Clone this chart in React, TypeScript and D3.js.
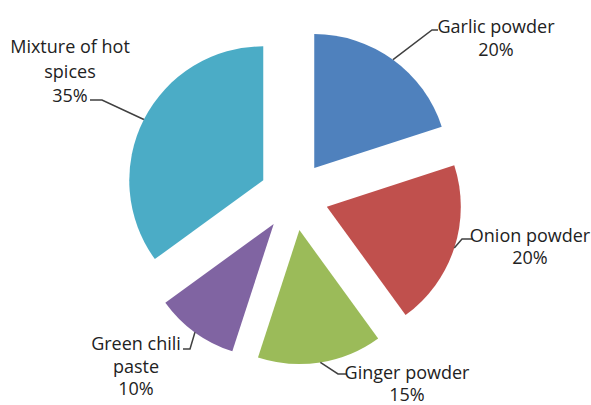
import React from "react";
import * as d3 from "d3";

const categories = ["Garlic powder", "Onion powder", "Ginger powder", "Green chili paste", "Mixture of hot spices"];
const values = [20, 20, 15, 10, 35];
const colors = ["#4F81BD", "#C0504D", "#9BBB59", "#8064A2", "#4BACC6"];
// label lines (text broken as in the reference)
const labelLines = [
  ["Garlic powder", "20%"],
  ["Onion powder", "20%"],
  ["Ginger powder", "15%"],
  ["Green chili", "paste", "10%"],
  ["Mixture of hot", "spices", "35%"],
];

// layout (not data)
const W = 591, H = 405;
const cx = 294, cy = 196, R = 134, EXPLODE = 34.5;
const labelPos = [
  { x: 496, y: 33, lh: 22.5, elbow: [432, 30], end: [438, 30] },
  { x: 530, y: 242, lh: 22, elbow: [462, 239], end: [473, 239] },
  { x: 407, y: 379, lh: 22, elbow: [338, 374], end: [347, 374] },
  { x: 136, y: 350, lh: 22.5, elbow: [190, 349], end: [183, 349] },
  { x: 70, y: 53, lh: 24.5, elbow: [102, 100], end: [90, 100] },
];

export default function App() {
  const pie = d3.pie<number>().sort(null).value((d) => d)(values);
  const arc = d3.arc<d3.PieArcDatum<number>>().innerRadius(0).outerRadius(R);
  return (
    <svg width={W} height={H} style={{ position: "absolute", left: 0, top: 0, background: "#fff" }}>
      <rect width={W} height={H} fill="#fff" />
      {pie.map((p, i) => {
        const mid = (p.startAngle + p.endAngle) / 2;
        const ox = cx + Math.sin(mid) * EXPLODE;
        const oy = cy - Math.cos(mid) * EXPLODE;
        const sx = ox + Math.sin(mid) * R;
        const sy = oy - Math.cos(mid) * R;
        const lp = labelPos[i];
        const lines = labelLines[i];
        return (
          <g key={categories[i]}>
            <path d={arc(p) || ""} transform={`translate(${ox},${oy})`} fill={colors[i]} />
            <polyline
              points={`${sx},${sy} ${lp.elbow[0]},${lp.elbow[1]} ${lp.end[0]},${lp.end[1]}`}
              fill="none"
              stroke="#404040"
              strokeWidth={1.5}
            />
            <text
              textAnchor="middle"
              fontFamily="'Open Sans', 'Liberation Sans', sans-serif"
              fontSize={18}
              fill="#222"
            >
              {lines.map((t, j) => (
                <tspan key={j} x={lp.x} y={lp.y + j * lp.lh}>
                  {t}
                </tspan>
              ))}
            </text>
          </g>
        );
      })}
    </svg>
  );
}
